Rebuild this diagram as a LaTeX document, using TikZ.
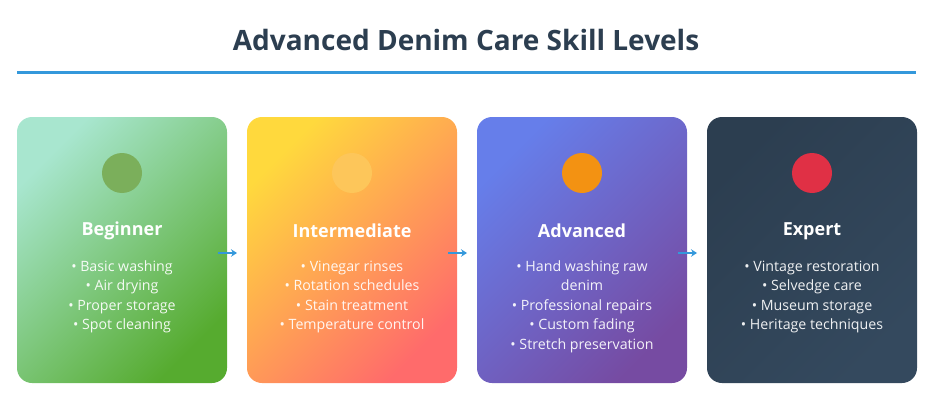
\documentclass[tikz,border=0pt]{standalone}
\usepackage{fontspec}
\setmainfont{Open Sans}
\usetikzlibrary{positioning,arrows.meta}
\definecolor{titleink}{HTML}{2C3E50}
\definecolor{rulebl}{HTML}{3498DB}
\definecolor{begA}{HTML}{A8E6CF}
\definecolor{begB}{HTML}{56AB2F}
\definecolor{intA}{HTML}{FFD93D}
\definecolor{intB}{HTML}{FF6B6B}
\definecolor{advA}{HTML}{667EEA}
\definecolor{advB}{HTML}{764BA2}
\definecolor{expA}{HTML}{2C3E50}
\definecolor{expB}{HTML}{34495E}
\definecolor{begdot}{HTML}{7BAF5B}
\definecolor{intdot}{HTML}{FDC65A}
\definecolor{advdot}{HTML}{F39212}
\definecolor{expdot}{HTML}{E03045}
\tikzset{
  card/.style={minimum width=210pt, minimum height=266pt, rounded corners=15pt,
    inner sep=0pt},
  badge/.style={circle, minimum size=40pt, inner sep=0pt},
  level/.style={text=white, font=\fontsize{18}{21}\selectfont\bfseries},
  points/.style={text=white, text opacity=0.92, anchor=north, align=center,
    font=\fontsize{14.2}{19.5}\selectfont, inner sep=0pt},
  flow/.style={-{Stealth[length=6pt,width=7.5pt]}, rulebl, line width=1.9pt}
}
\begin{document}
\begin{tikzpicture}[x=1pt,y=-1pt]
  \useasboundingbox (0,0) rectangle (933,417);
  % title and rule
  \node[text=titleink, font=\fontsize{28}{32}\selectfont\bfseries] (title) at (466,40) {Advanced Denim Care Skill Levels};
  \coordinate (rulel) at (17,73);
  \coordinate (ruler) at (916,73);
  \draw[rulebl, line width=3pt] (rulel) -- (ruler);

  % cards
  \node[card, left color=begA, right color=begB, shading angle=45] (beg) at (122,250) {};
  \node[card, left color=intA, right color=intB, shading angle=45] (int) at (352,250) {};
  \node[card, left color=advA, right color=advB, shading angle=45] (adv) at (582,250) {};
  \node[card, left color=expA, right color=expB, shading angle=45] (exp) at (812,250) {};

  % badges
  \node[badge, fill=begdot] (begbadge) at (122,173) {};
  \node[badge, fill=intdot] (intbadge) at (352,173) {};
  \node[badge, fill=advdot] (advbadge) at (582,173) {};
  \node[badge, fill=expdot] (expbadge) at (812,173) {};

  % level names
  \node[level] (begname) at (122,231) {Beginner};
  \node[level] (intname) at (352,231) {Intermediate};
  \node[level] (advname) at (582,231) {Advanced};
  \node[level] (expname) at (812,231) {Expert};

  % skills
  \node[points] (begpts) at (122,260.5) {• Basic washing\\• Air drying\\• Proper storage\\• Spot cleaning};
  \node[points] (intpts) at (352,260.5) {• Vinegar rinses\\• Rotation schedules\\• Stain treatment\\• Temperature control};
  \node[points] (advpts) at (582,260.5) {• Hand washing raw\\denim\\• Professional repairs\\• Custom fading\\• Stretch preservation};
  \node[points] (exppts) at (812,260.5) {• Vintage restoration\\• Selvedge care\\• Museum storage\\• Heritage techniques};

  % arrows
  \coordinate (go1) at (218,253);
  \coordinate (to1) at (237,253);
  \coordinate (go2) at (448,253);
  \coordinate (to2) at (467,253);
  \coordinate (go3) at (678,253);
  \coordinate (to3) at (697,253);
  \draw[flow] (go1) -- (to1);
  \draw[flow] (go2) -- (to2);
  \draw[flow] (go3) -- (to3);
\end{tikzpicture}
\end{document}
